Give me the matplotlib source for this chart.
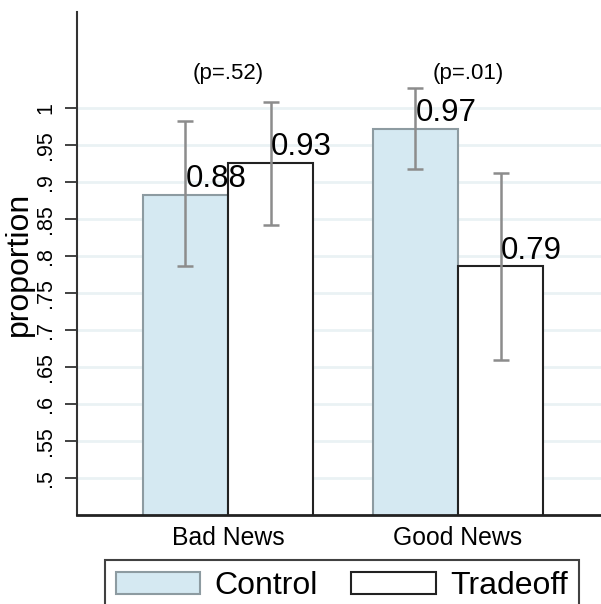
import matplotlib
matplotlib.use("Agg")
import matplotlib.pyplot as plt
import numpy as np

plt.rcParams['font.family'] = ['Liberation Sans', 'DejaVu Sans']

# ---- data ----
groups = ["Bad News", "Good News"]
series = ["Control", "Tradeoff"]
control_vals = [0.883, 0.972]
tradeoff_vals = [0.926, 0.786]
control_lo = [0.786, 0.918]
control_hi = [0.982, 1.027]
tradeoff_lo = [0.842, 0.659]
tradeoff_hi = [1.009, 0.912]
p_labels = ["(p=.52)", "(p=.01)"]
yticks = [0.5, 0.55, 0.6, 0.65, 0.7, 0.75, 0.8, 0.85, 0.9, 0.95, 1.0]
ytick_labels = [".5", ".55", ".6", ".65", ".7", ".75", ".8", ".85", ".9", ".95", "1"]

W, H = 601, 604
fig = plt.figure(figsize=(W / 100, H / 100), dpi=100)
ax = fig.add_axes([77 / W, 1 - 515 / H, 1 - 77 / W, (515 - 12) / H])

ctrl_face = "#d5e9f2"
ctrl_edge = "#8d9ba1"
err_col = "#8c8c8c"

x = np.arange(len(groups))
bw = 0.37
xc = x - bw / 2
xt = x + bw / 2

ax.bar(xc, control_vals, bw, bottom=0, color=ctrl_face, edgecolor=ctrl_edge,
       linewidth=1.5, zorder=2, label=series[0])
ax.bar(xt, tradeoff_vals, bw, bottom=0, color="white", edgecolor="#222222",
       linewidth=1.5, zorder=2, label=series[1])

c_err = [np.array(control_vals) - np.array(control_lo), np.array(control_hi) - np.array(control_vals)]
t_err = [np.array(tradeoff_vals) - np.array(tradeoff_lo), np.array(tradeoff_hi) - np.array(tradeoff_vals)]
ax.errorbar(xc, control_vals, yerr=c_err, fmt="none", ecolor=err_col, elinewidth=1.8,
            capsize=6, capthick=1.8, zorder=3)
ax.errorbar(xt, tradeoff_vals, yerr=t_err, fmt="none", ecolor=err_col, elinewidth=1.8,
            capsize=6, capthick=1.8, zorder=3)

for xs, vals in ((xc, control_vals), (xt, tradeoff_vals)):
    for xi, v in zip(xs, vals):
        ax.text(xi, v + 0.001, f"{v:.2f}", ha="left", va="bottom", fontsize=22.5, zorder=4)

p_x = [x[0], x[1] + 0.045]
for px, lab in zip(p_x, p_labels):
    ax.text(px, 1.047, lab, ha="center", va="center", fontsize=16)

ax.set_xlim(-0.6565, 1.6217)
ax.set_ylim(0.45, 1.13)
ax.set_yticks(yticks)
ax.set_yticklabels(ytick_labels, rotation=90, va="center", fontsize=15.5)
ax.set_xticks(x)
ax.set_xticklabels(groups, fontsize=17.8)
ax.tick_params(axis="x", length=0, pad=8)
ax.tick_params(axis="y", length=9, width=1.3, color="#333333", pad=6)
ax.set_ylabel("proportion", fontsize=23)
ax.yaxis.set_label_coords(-0.083, 0.5)

ax.grid(axis="y", color="#eaf2f4", linewidth=2, zorder=0)
ax.set_axisbelow(True)
for s in ("top", "right"):
    ax.spines[s].set_visible(False)
ax.spines["left"].set_color("#333333")
ax.spines["left"].set_linewidth(1.5)
ax.spines["bottom"].set_color("#222222")
ax.spines["bottom"].set_linewidth(2)

leg = fig.legend(loc="upper left", bbox_to_anchor=(105 / W, 1 - 560 / H),
                 ncol=2, fontsize=23, frameon=True, fancybox=False,
                 handlelength=2.63, handleheight=0.69, handletextpad=0.45,
                 columnspacing=1.05, borderpad=0.35, borderaxespad=0)
leg.get_frame().set_edgecolor("#111111")
leg.get_frame().set_linewidth(1.5)

fig.savefig("out.png", dpi=100)
